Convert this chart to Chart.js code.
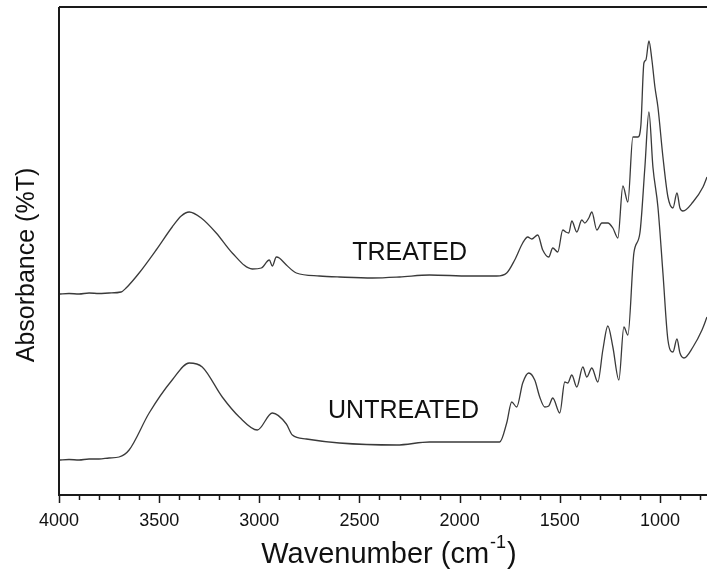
<!DOCTYPE html>
<html>
<head>
<meta charset="utf-8">
<script src="https://cdn.jsdelivr.net/npm/chart.js@4/dist/chart.umd.min.js"></script>
<style>
  html, body { margin: 0; padding: 0; background: #fff; }
  #wrap { width: 707px; height: 572px; position: relative; }
</style>
</head>
<body>
<div id="wrap"><canvas id="ftirChart"></canvas></div>
<script>
// FTIR spectra, treated vs untreated (absorbance in arbitrary offset units)
const treatedWn = [4000, 3950, 3900, 3850, 3800, 3750, 3690, 3665, 3600, 3515, 3435, 3390, 3350, 3290, 3215, 3135, 3035, 2990, 2950, 2935, 2915, 2900, 2865, 2815, 2700, 2600, 2435, 2300, 2150, 1950, 1815, 1765, 1725, 1685, 1660, 1640, 1610, 1585, 1555, 1535, 1510, 1485, 1470, 1455, 1440, 1415, 1390, 1375, 1355, 1340, 1315, 1290, 1260, 1235, 1210, 1185, 1160, 1135, 1110, 1095, 1080, 1070, 1055, 1040, 1025, 1010, 985, 960, 935, 915, 900, 885, 835, 785, 765];
const treatedAbs = [201, 201.5, 201, 202, 201.5, 202, 203, 207, 222, 245, 268, 279, 283, 277, 262, 242, 226, 227, 235, 229, 238, 237, 230, 222, 219, 218, 217, 218, 220, 219, 219, 222, 235, 252, 258, 256, 260, 245, 238, 247, 243, 265, 263, 262, 274, 263, 275, 272, 277, 283, 265, 272, 272, 267, 257, 309, 293, 358, 358, 370, 432, 435, 454, 435, 408, 388, 338, 298, 287, 302, 287, 284, 293, 308, 318];

const untreatedWn = [4000, 3950, 3900, 3850, 3800, 3750, 3700, 3650, 3550, 3435, 3350, 3285, 3185, 3100, 3010, 2935, 2865, 2835, 2765, 2600, 2315, 2150, 1800, 1765, 1740, 1715, 1685, 1655, 1625, 1600, 1575, 1555, 1535, 1500, 1475, 1460, 1440, 1415, 1385, 1365, 1340, 1310, 1285, 1260, 1235, 1205, 1180, 1160, 1130, 1100, 1075, 1055, 1035, 1010, 985, 960, 935, 915, 900, 880, 835, 790, 765];
const untreatedAbs = [35, 35.5, 35, 36, 36, 37, 38, 45, 82, 115, 132, 128, 98, 78, 65, 82, 71, 60, 56, 52, 50, 53, 53, 72, 93, 88, 112, 122, 115, 98, 88, 89, 97, 82, 113, 112, 120, 108, 128, 118, 127, 113, 145, 169, 148, 115, 168, 160, 242, 262, 328, 383, 328, 288, 222, 155, 143, 156, 142, 137, 148, 165, 178];

const xTickValues = [4000, 3500, 3000, 2500, 2000, 1500, 1000];
const curveLabels = ['TREATED', 'UNTREATED'];
const curveLabelWn = [2250, 2280];
const curveLabelAbs = [235, 77];

const FONT = '"Liberation Sans", Arial, Helvetica, sans-serif';

function toPoints(xs, ys) {
    return xs.map((x, i) => ({ x: x, y: ys[i] }));
}

const framePlugin = {
    id: 'frame',
    afterDraw(chart) {
        const ctx = chart.ctx;
        const area = chart.chartArea;
        const xs = chart.scales.x;
        const ys = chart.scales.y;
        ctx.save();

        // axes / frame
        ctx.strokeStyle = '#1a1a1a';
        ctx.lineWidth = 2;
        ctx.beginPath();
        ctx.moveTo(area.left, area.top);
        ctx.lineTo(area.right, area.top);
        ctx.moveTo(area.left, area.top);
        ctx.lineTo(area.left, area.bottom);
        ctx.lineTo(area.right, area.bottom);
        ctx.stroke();

        // ticks, major every 500 and minor every 100
        ctx.lineWidth = 1.5;
        ctx.beginPath();
        for (let v = 4000; v >= 800; v -= 100) {
            const px = Math.round(xs.getPixelForValue(v)) + 0.5;
            const len = (v % 500 === 0) ? 8 : 5;
            ctx.moveTo(px, area.bottom);
            ctx.lineTo(px, area.bottom + len);
        }
        ctx.stroke();

        // tick labels
        ctx.fillStyle = '#111';
        ctx.font = '18px ' + FONT;
        ctx.textAlign = 'center';
        ctx.textBaseline = 'middle';
        xTickValues.forEach(v => {
            ctx.fillText(String(v), xs.getPixelForValue(v), 521);
        });

        // x title with superscript
        const main = 'Wavenumber (cm';
        const sup = '-1';
        const close = ')';
        ctx.textBaseline = 'alphabetic';
        ctx.textAlign = 'left';
        ctx.font = '29px ' + FONT;
        const wMain = ctx.measureText(main).width;
        const wClose = ctx.measureText(close).width;
        ctx.font = '18px ' + FONT;
        const wSup = ctx.measureText(sup).width;
        const total = wMain + wSup + wClose;
        let tx = 388 - total / 2;
        ctx.font = '29px ' + FONT;
        ctx.fillText(main, tx, 563);
        ctx.font = '18px ' + FONT;
        ctx.fillText(sup, tx + wMain + 1, 548);
        ctx.font = '29px ' + FONT;
        ctx.fillText(close, tx + wMain + wSup + 2, 563);

        // y title
        ctx.save();
        ctx.translate(27, 265);
        ctx.rotate(-Math.PI / 2);
        ctx.textAlign = 'center';
        ctx.textBaseline = 'middle';
        ctx.font = '25px ' + FONT;
        ctx.fillText('Absorbance (%T)', 0, 0);
        ctx.restore();

        // curve labels
        ctx.font = '25px ' + FONT;
        ctx.textAlign = 'center';
        ctx.textBaseline = 'alphabetic';
        curveLabels.forEach((t, i) => {
            ctx.fillText(t, xs.getPixelForValue(curveLabelWn[i]), ys.getPixelForValue(curveLabelAbs[i]));
        });

        ctx.restore();
    }
};

new Chart(document.getElementById('ftirChart').getContext('2d'), {
    type: 'scatter',
    data: {
        datasets: [{
            label: 'TREATED',
            data: toPoints(treatedWn, treatedAbs),
            showLine: true,
            borderColor: '#3a3a3a',
            borderWidth: 1.3,
            pointRadius: 0,
            cubicInterpolationMode: 'monotone'
        }, {
            label: 'UNTREATED',
            data: toPoints(untreatedWn, untreatedAbs),
            showLine: true,
            borderColor: '#3a3a3a',
            borderWidth: 1.3,
            pointRadius: 0,
            cubicInterpolationMode: 'monotone'
        }]
    },
    options: {
        responsive: true,
        maintainAspectRatio: false,
        animation: false,
        layout: { padding: { left: 59, right: 0, top: 7, bottom: 77 } },
        plugins: {
            legend: { display: false },
            tooltip: { enabled: false }
        },
        scales: {
            x: { type: 'linear', reverse: true, min: 765, max: 4000, display: false },
            y: { type: 'linear', min: 0, max: 488, display: false }
        }
    },
    plugins: [framePlugin]
});
</script>
</body>
</html>
